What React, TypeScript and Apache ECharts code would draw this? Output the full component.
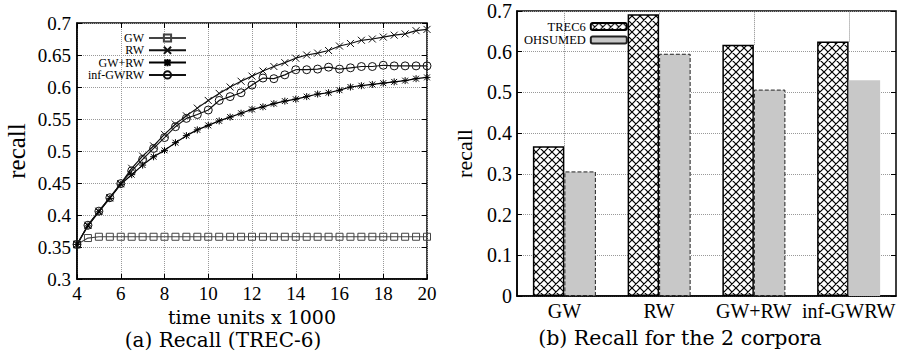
import React, { useEffect, useRef } from 'react';
import * as echarts from 'echarts';

const times = [4, 4.5, 5, 5.5, 6, 6.5, 7, 7.5, 8, 8.5, 9, 9.5, 10, 10.5, 11, 11.5, 12, 12.5, 13, 13.5, 14, 14.5, 15, 15.5, 16, 16.5, 17, 17.5, 18, 18.5, 19, 19.5, 20];
const gwRecall = [0.354, 0.364, 0.366, 0.366, 0.366, 0.366, 0.366, 0.366, 0.366, 0.366, 0.366, 0.366, 0.366, 0.366, 0.366, 0.366, 0.366, 0.366, 0.366, 0.366, 0.366, 0.366, 0.366, 0.366, 0.366, 0.366, 0.366, 0.366, 0.366, 0.366, 0.366, 0.366, 0.366];
const rwRecall = [0.354, 0.384, 0.406, 0.427, 0.449, 0.473, 0.492, 0.508, 0.526, 0.542, 0.555, 0.567, 0.579, 0.590, 0.600, 0.609, 0.617, 0.625, 0.632, 0.638, 0.645, 0.650, 0.653, 0.657, 0.664, 0.668, 0.673, 0.675, 0.678, 0.681, 0.683, 0.688, 0.690];
const gwrwRecall = [0.354, 0.383, 0.405, 0.426, 0.448, 0.463, 0.478, 0.491, 0.501, 0.513, 0.524, 0.533, 0.540, 0.547, 0.553, 0.559, 0.565, 0.569, 0.574, 0.578, 0.581, 0.585, 0.589, 0.591, 0.595, 0.600, 0.602, 0.604, 0.606, 0.608, 0.610, 0.613, 0.615];
const infRecall = [0.354, 0.384, 0.406, 0.427, 0.449, 0.469, 0.487, 0.504, 0.521, 0.538, 0.551, 0.557, 0.564, 0.579, 0.585, 0.591, 0.603, 0.614, 0.613, 0.619, 0.627, 0.627, 0.628, 0.631, 0.628, 0.630, 0.632, 0.632, 0.634, 0.633, 0.633, 0.633, 0.633];
const lineNames = ['GW', 'RW', 'GW+RW', 'inf-GWRW'];

const categories = ['GW', 'RW', 'GW+RW', 'inf-GWRW'];
const trec6 = [0.368, 0.692, 0.617, 0.625];
const ohsumed = [0.306, 0.595, 0.507, 0.530];
const barNames = ['TREC6', 'OHSUMED'];

const xAxisTitle = 'time units x 1000';
const yAxisTitle = 'recall';
const captionA = '(a) Recall (TREC-6)';
const captionB = '(b) Recall for the 2 corpora';

const FONT = 'Liberation Serif';
const WIDE = 'DejaVu Serif';
const SQ = 'path://M0,0L10,0L10,10L0,10Z';
const XS = 'path://M0,0L10,10M10,0L0,10';
const STAR = 'path://M0,0L10,10M10,0L0,10M5,-1L5,11M-1,5L11,5';
const CIRC = 'path://M10,5A5,5,0,1,1,0,5A5,5,0,1,1,10,5Z';

export default function App() {
  const ref = useRef<HTMLDivElement>(null);
  useEffect(() => {
    const el = ref.current!;
    const chart = echarts.init(el, null, { renderer: 'svg' });

    const P = 8;
    const cv = document.createElement('canvas');
    cv.width = P; cv.height = P;
    const ctx = cv.getContext('2d')!;
    ctx.fillStyle = '#fff';
    ctx.fillRect(0, 0, P, P);
    ctx.strokeStyle = '#000';
    ctx.lineWidth = 1.2;
    ctx.beginPath();
    for (let k = -1; k <= 1; k++) {
      ctx.moveTo(k * P - 1, -1); ctx.lineTo(k * P + P + 1, P + 1);
    }
    for (let k = 0; k <= 2; k++) {
      ctx.moveTo(k * P + 1, -1); ctx.lineTo(k * P - P - 1, P + 1);
    }
    ctx.stroke();
    const hatch: any = { image: cv, repeat: 'repeat', imageWidth: P, imageHeight: P };

    const grid0 = { left: 77, top: 23, width: 350, height: 256, show: true, borderColor: '#000', borderWidth: 1.5 };
    const grid1 = { left: 517, top: 11, width: 379, height: 285, show: true, borderColor: '#000', borderWidth: 1.5 };
    const dotted = { type: 'dotted' as const, color: '#999', width: 1 };

    const lineCommon = (name: string, vals: number[], symbol: string, size: number, stroke: string) => ({
      type: 'line', name, xAxisIndex: 0, yAxisIndex: 0,
      data: times.map((t, i) => [t, vals[i]]),
      symbol, symbolSize: size,
      lineStyle: { color: stroke, width: 1.2 },
      itemStyle: { color: 'rgba(0,0,0,0)', borderColor: stroke, borderWidth: 1 },
      z: 3,
    });

    const option: any = {
      animation: false,
      grid: [grid0, grid1],
      legend: [
        {
          data: lineNames, orient: 'vertical', align: 'right', left: 83, top: 27,
          itemWidth: 37, itemHeight: 9, itemGap: 0.3,
          textStyle: { fontFamily: FONT, fontSize: 12, color: '#000', lineHeight: 12 },
          selectedMode: false,
        },
        {
          data: barNames, orient: 'vertical', align: 'right', left: 519, top: 15,
          itemWidth: 36, itemHeight: 7, itemGap: 0.5,
          textStyle: { fontFamily: FONT, fontSize: 12.5, color: '#000', lineHeight: 11.5 },
          selectedMode: false,
        },
      ],
      xAxis: [
        {
          type: 'value', gridIndex: 0, min: 4, max: 20, interval: 2,
          name: xAxisTitle, nameLocation: 'middle', nameGap: 25,
          nameTextStyle: { fontFamily: WIDE, fontSize: 19, color: '#000' },
          axisLine: { show: true, lineStyle: { color: '#000', width: 1.5 } },
          axisTick: { show: true, inside: true, length: 5, lineStyle: { color: '#000' } },
          axisLabel: { fontFamily: FONT, fontSize: 19, color: '#000', margin: 5 },
          splitLine: { show: true, lineStyle: dotted },
        },
        {
          type: 'value', gridIndex: 0, min: 4, max: 20, interval: 2, position: 'top',
          axisLine: { show: false }, axisLabel: { show: false },
          axisTick: { show: true, inside: true, length: 5, lineStyle: { color: '#000' } },
          splitLine: { show: false },
        },
        {
          type: 'category', gridIndex: 1, data: categories,
          axisLine: { show: true, lineStyle: { color: '#000', width: 1.5 } },
          axisTick: { show: false },
          axisLabel: { fontFamily: FONT, fontSize: 20, color: '#000', margin: 5, interval: 0 },
          splitLine: { show: false },
        },
      ],
      yAxis: [
        {
          type: 'value', gridIndex: 0, min: 0.3, max: 0.7, interval: 0.05,
          name: yAxisTitle, nameLocation: 'middle', nameGap: 48,
          nameTextStyle: { fontFamily: FONT, fontSize: 25, color: '#000' },
          axisLine: { show: true, lineStyle: { color: '#000', width: 1.5 } },
          axisTick: { show: true, inside: true, length: 5, lineStyle: { color: '#000' } },
          axisLabel: { fontFamily: FONT, fontSize: 19, color: '#000', margin: 6 },
          splitLine: { show: true, lineStyle: dotted },
        },
        {
          type: 'value', gridIndex: 0, min: 0.3, max: 0.7, interval: 0.05, position: 'right',
          axisLine: { show: false }, axisLabel: { show: false },
          axisTick: { show: true, inside: true, length: 5, lineStyle: { color: '#000' } },
          splitLine: { show: false },
        },
        {
          type: 'value', gridIndex: 1, min: 0, max: 0.7, interval: 0.1,
          name: yAxisTitle, nameLocation: 'middle', nameGap: 42,
          nameTextStyle: { fontFamily: FONT, fontSize: 22, color: '#000' },
          axisLine: { show: true, lineStyle: { color: '#000', width: 1.5 } },
          axisTick: { show: true, inside: true, length: 5, lineStyle: { color: '#000' } },
          axisLabel: { fontFamily: FONT, fontSize: 20, color: '#000', margin: 5 },
          splitLine: { show: true, lineStyle: dotted },
        },
        {
          type: 'value', gridIndex: 1, min: 0, max: 0.7, interval: 0.1, position: 'right',
          axisLine: { show: false }, axisLabel: { show: false },
          axisTick: { show: true, inside: true, length: 5, lineStyle: { color: '#000' } },
          splitLine: { show: false },
        },
      ],
      series: [
        lineCommon(lineNames[0], gwRecall, SQ, 7, '#444'),
        lineCommon(lineNames[1], rwRecall, XS, 7, '#111'),
        lineCommon(lineNames[2], gwrwRecall, STAR, 7, '#000'),
        lineCommon(lineNames[3], infRecall, CIRC, 8, '#111'),
        {
          type: 'bar', name: barNames[0], xAxisIndex: 2, yAxisIndex: 2,
          data: trec6, barWidth: 31.5, barGap: '0%', z: 8,
          itemStyle: { color: hatch, borderColor: '#000', borderWidth: 1.5 },
        },
        {
          type: 'bar', name: barNames[1], xAxisIndex: 2, yAxisIndex: 2,
          data: ohsumed.map((v, i) => (i === 3 ? { value: v, itemStyle: { borderWidth: 0 } } : v)),
          barWidth: 31.5, barGap: '0%', z: 8,
          itemStyle: { color: '#c8c8c8', borderColor: '#222', borderWidth: 1, borderType: 'dashed' },
        },
        {
          type: 'custom', xAxisIndex: 2, yAxisIndex: 2, silent: true, z: 9,
          data: categories.map((c, i) => [i, Math.max(trec6[i], ohsumed[i])]),
          renderItem: (params: any, api: any) => {
            const p0 = api.coord([api.value(0), api.value(1)]);
            const p1 = api.coord([api.value(0), 0.7]);
            const x = Math.round(p0[0]) + 0.5;
            return {
              type: 'line',
              shape: { x1: x, y1: p0[1], x2: x, y2: p1[1] },
              style: { stroke: '#888', lineWidth: 1, lineDash: [1, 1] },
            };
          },
        },
      ],
      graphic: [
        {
          type: 'text', x: 223, y: 340,
          style: { text: captionA, fontFamily: WIDE, fontSize: 20, fill: '#000', align: 'center', verticalAlign: 'middle' },
        },
        {
          type: 'text', x: 680, y: 338,
          style: { text: captionB, fontFamily: WIDE, fontSize: 20.5, fill: '#000', align: 'center', verticalAlign: 'middle' },
        },
      ],
    };
    chart.setOption(option);
    return () => chart.dispose();
  }, []);
  return <div ref={ref} style={{ position: 'fixed', left: 0, top: 0, width: 907, height: 356, background: '#fff' }} />;
}
